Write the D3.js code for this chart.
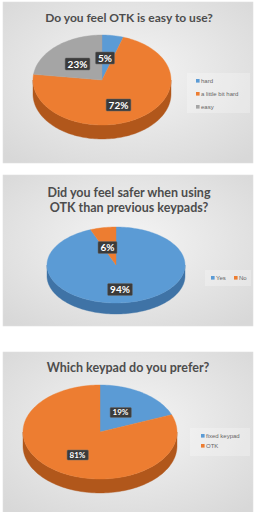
<!DOCTYPE html>
<html><head><meta charset="utf-8">
<script src="https://cdn.jsdelivr.net/npm/d3@7"></script>
<style>html,body{margin:0;padding:0;background:#fff;}svg{display:block;}</style>
</head><body>
<script>
// ---- data ----
const title1 = ["Do you feel OTK is easy to use?"];
const cats1 = ["hard", "a little bit hard", "easy"];
const vals1 = [5, 72, 23];

const title2 = ["Did you feel safer when using", "OTK than previous keypads?"];
const cats2 = ["Yes", "No"];
const vals2 = [94, 6];

const title3 = ["Which keypad do you prefer?"];
const cats3 = ["fixed keypad", "OTK"];
const vals3 = [19, 81];

const colors = ["#5b9bd5", "#ed7d31", "#a5a5a5"];
const sideColors = ["#3f73a6", "#b1571b", "#7d7d7d"];

// ---- drawing ----
const W = 256, H = 512;
const svg = d3.select("body").append("svg").attr("width", W).attr("height", H);
const defs = svg.append("defs");
const rg = defs.append("radialGradient").attr("id", "bg").attr("cx", "50%").attr("cy", "45%").attr("r", "70%");
rg.append("stop").attr("offset", "0%").attr("stop-color", "#f5f5f5");
rg.append("stop").attr("offset", "100%").attr("stop-color", "#d8d8d8");

function ellPt(cx, cy, rx, ry, a, dy) {
  return [cx + rx * Math.sin(a), cy - ry * Math.cos(a) + (dy || 0)];
}
function arcPts(cx, cy, rx, ry, a0, a1, dy) {
  const n = Math.max(2, Math.ceil(Math.abs(a1 - a0) / 0.03));
  return d3.range(n + 1).map(i => ellPt(cx, cy, rx, ry, a0 + (a1 - a0) * i / n, dy));
}
const line = d3.line();

function drawPanel(cfg) {
  const g = svg.append("g");
  g.append("rect").attr("x", cfg.box[0]).attr("y", cfg.box[1]).attr("width", cfg.box[2]).attr("height", cfg.box[3])
    .attr("fill", "url(#bg)").attr("stroke", "#e0e0e0").attr("stroke-width", 0.6);
  cfg.title.forEach((t, i) => {
    g.append("text").attr("x", cfg.titleX).attr("y", cfg.titleY + i * cfg.titleLH)
      .attr("text-anchor", "middle").attr("font-family", "Lato, 'Open Sans', sans-serif")
      .attr("font-weight", "bold").attr("font-size", cfg.titleSize).attr("fill", "#4d4d4d").text(t);
  });
  // legend box
  g.append("rect").attr("x", cfg.legBox[0]).attr("y", cfg.legBox[1]).attr("width", cfg.legBox[2]).attr("height", cfg.legBox[3])
    .attr("fill", "#ffffff").attr("opacity", 0.25);

  const pie = d3.pie().sort(null).value(d => d)(cfg.values);
  const {cx, cy, rx, ry, depth} = cfg;
  // sides (front half: pi/2 .. 3pi/2)
  pie.forEach((d, i) => {
    const a0 = Math.max(d.startAngle, Math.PI / 2), a1 = Math.min(d.endAngle, 3 * Math.PI / 2);
    if (a1 <= a0) return;
    const top = arcPts(cx, cy, rx, ry, a0, a1, 0);
    const bot = arcPts(cx, cy, rx, ry, a1, a0, depth);
    g.append("path").attr("d", line(top.concat(bot)) + "Z").attr("fill", cfg.side[i])
      .attr("stroke", cfg.side[i]).attr("stroke-width", 0.4);
  });
  // top faces
  pie.forEach((d, i) => {
    const pts = [[cx, cy]].concat(arcPts(cx, cy, rx, ry, d.startAngle, d.endAngle, 0));
    g.append("path").attr("d", line(pts) + "Z").attr("fill", cfg.colors[i])
      .attr("stroke", cfg.colors[i]).attr("stroke-width", 0.4);
  });
  // data labels
  pie.forEach((d, i) => {
    const [lx, ly] = cfg.labelPos[i];
    const txt = cfg.values[i] + "%";
    const t = g.append("text").attr("x", lx).attr("y", ly).attr("dy", "0.35em")
      .attr("text-anchor", "middle").attr("font-family", "Lato, 'Open Sans', sans-serif")
      .attr("font-weight", "bold").attr("font-size", cfg.labelSize).attr("fill", "#fff").text(txt);
    const bb = t.node().getBBox();
    g.insert("rect", () => t.node()).attr("x", bb.x - 2.5).attr("y", ly - cfg.labelH / 2)
      .attr("width", bb.width + 5).attr("height", cfg.labelH).attr("rx", 1)
      .attr("fill", "#3b3b3b").attr("stroke", "#6a6a6a").attr("stroke-width", 0.5);
  });
  // legend
  cfg.cats.forEach((c, i) => {
    const [x, y] = cfg.legPos[i];
    g.append("rect").attr("x", x).attr("y", y - 2).attr("width", 3.6).attr("height", 3.6).attr("fill", cfg.colors[i]);
    g.append("text").attr("x", x + 5).attr("y", y).attr("dy", "0.35em")
      .attr("font-family", "'Liberation Sans', Arial, sans-serif").attr("font-size", cfg.legSize)
      .attr("fill", "#666666").text(c);
  });
}

drawPanel({
  box: [3, 2, 250, 161], title: title1, titleX: 129, titleY: 22, titleLH: 15, titleSize: 12,
  values: vals1, cats: cats1, colors: colors, side: sideColors,
  cx: 102, cy: 80, rx: 69, ry: 45, depth: 14,
  labelPos: [[105, 58], [118.5, 105], [77.5, 64]], labelSize: 10, labelH: 12,
  legBox: [187, 73, 63, 40], legPos: [[196, 81], [196, 94], [196, 107]], legSize: 6
});
drawPanel({
  box: [3, 175, 250, 151], title: title2, titleX: 129, titleY: 197, titleLH: 15, titleSize: 12.5,
  values: vals2, cats: cats2, colors: colors, side: sideColors,
  cx: 116, cy: 265, rx: 69, ry: 38, depth: 11,
  labelPos: [[120, 289.5], [107.5, 247.5]], labelSize: 10, labelH: 12,
  legBox: [205, 270, 46, 16], legPos: [[211, 278], [234, 278]], legSize: 6
});
drawPanel({
  box: [3, 352, 250, 162], title: title3, titleX: 128, titleY: 372, titleLH: 15, titleSize: 12.5,
  values: vals3, cats: cats3, colors: colors, side: sideColors,
  cx: 100, cy: 432, rx: 77, ry: 47, depth: 14,
  labelPos: [[120.5, 412.5], [77.5, 455]], labelSize: 8, labelH: 10,
  legBox: [190, 428, 60, 28], legPos: [[201, 436], [201, 446]], legSize: 6
});
</script>
</body></html>
